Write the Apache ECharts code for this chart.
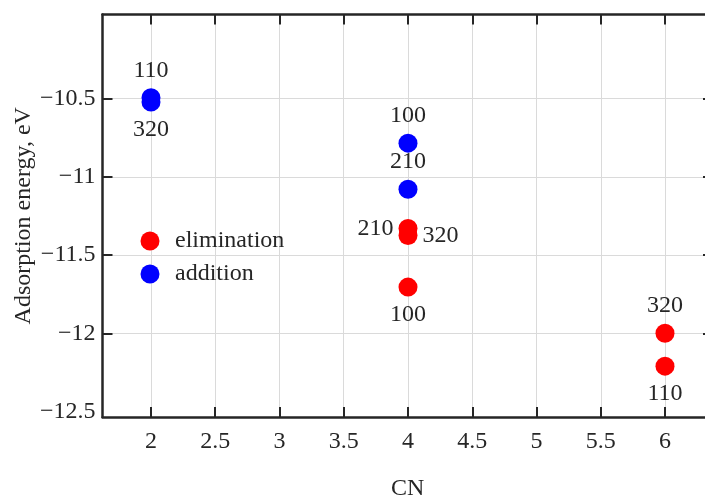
<!DOCTYPE html>
<html>
<head>
<meta charset="utf-8">
<script src="https://cdn.jsdelivr.net/npm/echarts@6/dist/echarts.min.js"></script>
<style>html,body{margin:0;padding:0;background:#fff}#c{width:705px;height:499px}</style>
</head>
<body>
<div id="c"></div>
<script>
// Data
const elimCN = [4, 4, 4, 6, 6];
const elimE = [-11.33, -11.375, -11.705, -12.0, -12.21];
const elimLabels = ['210', '320', '100', '320', '110'];
const addCN = [2, 2, 4, 4];
const addE = [-10.495, -10.522, -10.785, -11.08];
const addLabels = ['110', '320', '100', '210'];
const seriesNames = ['elimination', 'addition'];
const xTicks = [2, 2.5, 3, 3.5, 4, 4.5, 5, 5.5, 6];
const yTickLabels = [-12.5, -12, -11.5, -11, -10.5];
const yTickMarks = [-12, -11.5, -11, -10.5];
const xTitle = 'CN';
const yTitle = 'Adsorption energy, eV';

// Layout of point labels (styling, not data)
const elimLabelPlace = ['left', 'right', 'bottom', 'top', 'bottom'];
const addLabelPlace = ['top', 'bottom', 'top', 'top'];

const FONT = 'Liberation Serif';
const FS = 24;
const TXT = '#262626';
const AX = '#262626';

function fmt(v) {
  return String(v).replace('-', '\u2212');
}

function build(xs, ys, labs, places) {
  return xs.map((x, i) => ({
    value: [x, ys[i]],
    label: {
      show: true,
      formatter: labs[i],
      position: places[i],
      distance: (places[i] === 'left' || places[i] === 'right') ? 5 : 6
    }
  }));
}

const chart = echarts.init(document.getElementById('c'), null, {renderer: 'canvas'});
function axis(extra, ticks) {
  return Object.assign({
    type: 'value',
    nameMoveOverlap: false,
    axisLine: {show: true, lineStyle: {color: AX, width: 2.5}},
    axisTick: {show: true, inside: true, length: 10, customValues: ticks, lineStyle: {color: AX, width: 2}},
    splitLine: {show: true, lineStyle: {color: '#dadada', width: 1}}
  }, extra);
}
const XMIN = 1.6226, XMAX = 6.3735, YMIN = -12.535, YMAX = -9.963;
chart.setOption({
  animation: false,
  textStyle: {fontFamily: FONT},
  grid: {left: 102.5, top: 14.5, width: 610.5, bottom: 82, containLabel: false, outerBoundsMode: 'none'},
  legend: {
    data: seriesNames,
    orient: 'vertical',
    left: 140.5,
    top: 229,
    padding: 0,
    itemGap: 9,
    itemWidth: 40,
    itemHeight: 19,
    icon: 'circle',
    textStyle: {fontFamily: FONT, fontSize: FS, color: TXT}
  },
  xAxis: [
    axis({
      min: XMIN, max: XMAX,
      position: 'bottom',
      name: xTitle, nameLocation: 'middle', nameGap: 60,
      nameTextStyle: {fontFamily: FONT, fontSize: FS, color: TXT},
      axisLabel: {customValues: xTicks, formatter: fmt, fontFamily: FONT, fontSize: FS, color: TXT, margin: 13}
    }, xTicks),
    axis({
      min: XMIN, max: XMAX,
      position: 'top',
      axisLabel: {show: false},
      splitLine: {show: false}
    }, xTicks)
  ],
  yAxis: [
    axis({
      min: YMIN, max: YMAX,
      position: 'left',
      name: yTitle, nameLocation: 'middle', nameGap: 67,
      nameTextStyle: {fontFamily: FONT, fontSize: FS, color: TXT},
      axisLabel: {customValues: yTickLabels, formatter: fmt, fontFamily: FONT, fontSize: FS, color: TXT, margin: 7}
    }, yTickMarks),
    axis({
      min: YMIN, max: YMAX,
      position: 'right',
      axisLabel: {show: false},
      splitLine: {show: false}
    }, yTickMarks)
  ],
  series: [
    {
      name: seriesNames[0], type: 'scatter', symbol: 'circle', symbolSize: 19,
      itemStyle: {color: '#ff0000', opacity: 1},
      label: {fontFamily: FONT, fontSize: FS, color: TXT},
      data: build(elimCN, elimE, elimLabels, elimLabelPlace),
      z: 3
    },
    {
      name: seriesNames[1], type: 'scatter', symbol: 'circle', symbolSize: 19,
      itemStyle: {color: '#0000ff', opacity: 1},
      label: {fontFamily: FONT, fontSize: FS, color: TXT},
      data: build(addCN, addE, addLabels, addLabelPlace),
      z: 3
    }
  ]
});
</script>
</body>
</html>
